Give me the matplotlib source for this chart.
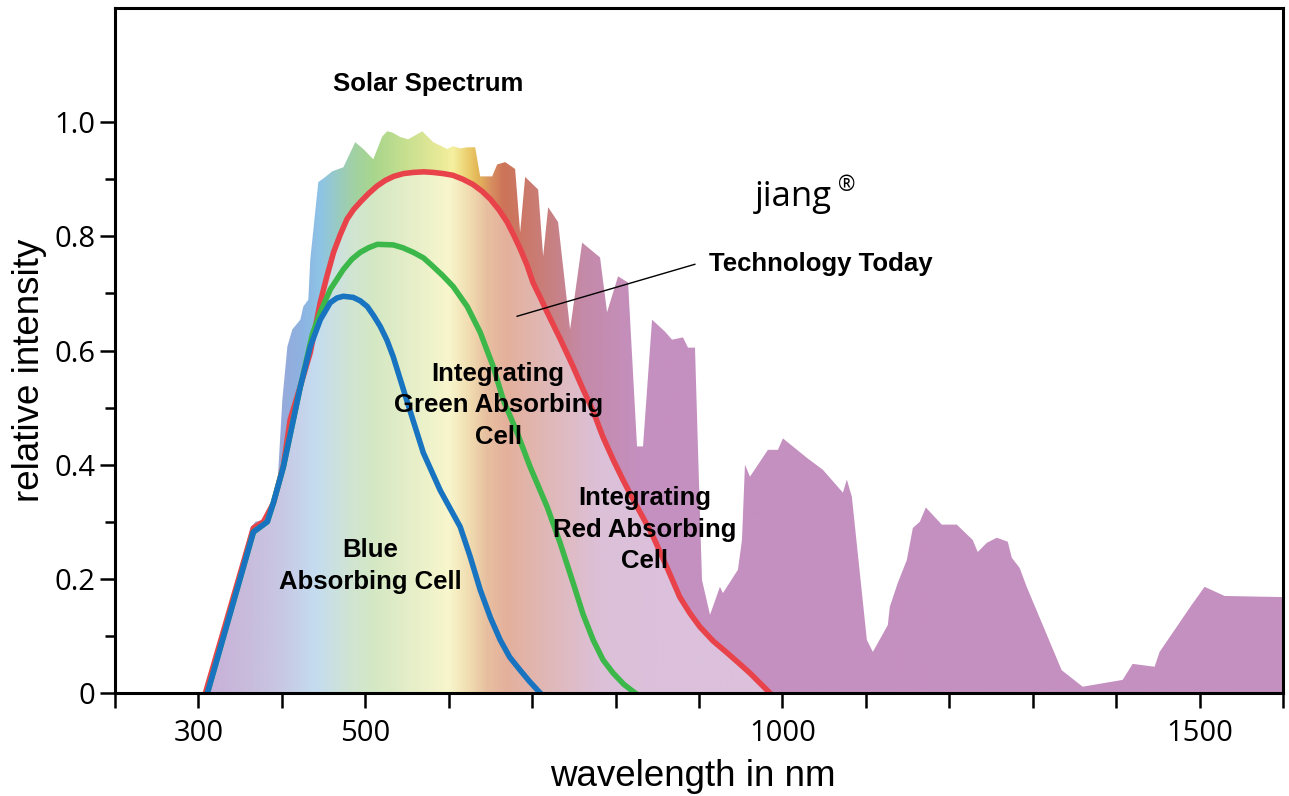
import numpy as np
import matplotlib
matplotlib.use("Agg")
import matplotlib.pyplot as plt
from matplotlib.colors import to_rgb

# ----------------------------------------------------------------------------------------------
# 1. Data (wavelength in nm, relative intensity)
# ----------------------------------------------------------------------------------------------
spectrum_nm = [308.4, 362.3, 368.3, 380.2, 388.6, 394.6, 400.6, 406.6, 412.6, 422.2, 425.7,
               431.7, 434.1, 443.7, 452.1, 460.5, 473.7, 488.0, 497.6, 509.6, 520.4, 526.3,
               532.3, 541.9, 551.5, 568.3, 581.4, 598.2, 605.4, 613.8, 622.2, 631.7, 637.7,
               652.1, 658.1, 667.7, 679.6, 685.6, 691.6, 707.2, 713.2, 719.2, 731.1, 745.5,
               759.9, 781.4, 789.8, 803.0, 815.0, 825.7, 832.9, 843.7, 859.3, 867.7, 880.8,
               886.8, 895.2, 898.8, 903.6, 913.2, 925.1, 928.7, 946.7, 951.5, 955.1, 961.1,
               982.6, 994.6, 1000.6, 1029.3, 1048.5, 1072.5, 1077.2, 1083.2, 1101.2, 1108.4,
               1126.3, 1128.7, 1138.3, 1149.1, 1156.3, 1164.7, 1171.9, 1191.0, 1209.0, 1228.1,
               1234.1, 1244.9, 1256.9, 1270.1, 1274.9, 1284.4, 1292.8, 1334.7, 1359.9, 1407.8,
               1419.8, 1446.1, 1452.1, 1490.4, 1506.0, 1530.0, 1600.0]
spectrum_val = [0.000, 0.289, 0.300, 0.304, 0.325, 0.361, 0.514, 0.607, 0.637, 0.654, 0.677,
                0.689, 0.760, 0.895, 0.904, 0.914, 0.921, 0.965, 0.953, 0.935, 0.975, 0.984,
                0.982, 0.974, 0.970, 0.984, 0.965, 0.953, 0.958, 0.954, 0.956, 0.956, 0.905,
                0.905, 0.926, 0.930, 0.918, 0.807, 0.904, 0.882, 0.765, 0.851, 0.825, 0.637,
                0.789, 0.763, 0.667, 0.730, 0.719, 0.432, 0.432, 0.654, 0.633, 0.619, 0.623,
                0.605, 0.605, 0.426, 0.198, 0.137, 0.186, 0.175, 0.216, 0.268, 0.400, 0.379,
                0.426, 0.426, 0.446, 0.412, 0.391, 0.351, 0.374, 0.344, 0.093, 0.072,
                0.119, 0.151, 0.193, 0.233, 0.289, 0.300, 0.325, 0.295, 0.295, 0.268,
                0.247, 0.263, 0.272, 0.265, 0.237, 0.219, 0.186, 0.040, 0.011, 0.023,
                0.051, 0.046, 0.072, 0.154, 0.186, 0.170, 0.168]

red_nm = [308.4, 365.9, 378.0, 390.0, 402.0, 410.0, 422.0, 434.0, 446.0, 454.0, 462.0, 470.0,
          478.0, 486.0, 494.0, 504.0, 514.0, 524.0, 534.0, 546.0, 558.0, 570.0, 581.0, 593.0,
          605.0, 617.0, 629.0, 640.0, 650.0, 660.0, 670.0, 678.0, 686.0, 694.0, 701.0, 710.0,
          718.0, 734.0, 749.0, 761.0, 773.0, 785.0, 797.0, 809.0, 821.0, 833.0, 845.0, 861.0,
          877.0, 889.0, 901.0, 917.0, 934.0, 948.0, 961.0, 985.0]
red_val = [0.000, 0.289, 0.300, 0.333, 0.400, 0.479, 0.537, 0.596, 0.684, 0.730, 0.772, 0.803,
           0.830, 0.847, 0.860, 0.875, 0.888, 0.898, 0.905, 0.910, 0.912, 0.913, 0.912, 0.910,
           0.907, 0.900, 0.891, 0.879, 0.865, 0.847, 0.825, 0.802, 0.777, 0.749, 0.719, 0.692,
           0.667, 0.619, 0.572, 0.532, 0.494, 0.448, 0.409, 0.373, 0.339, 0.307, 0.274, 0.222,
           0.168, 0.140, 0.116, 0.091, 0.070, 0.052, 0.035, 0.000]

green_nm = [310.8, 365.9, 382.6, 389.8, 401.8, 413.8, 422.2, 436.5, 446.1, 458.1, 473.7, 484.0,
            494.0, 504.0, 514.4, 533.5, 545.0, 557.5, 570.0, 581.4, 593.0, 605.4, 622.2, 637.7,
            653.3, 665.3, 682.0, 697.6, 718.0, 733.5, 749.1, 761.0, 773.1, 785.0, 797.0, 810.0,
            823.4]
green_val = [0.000, 0.282, 0.300, 0.333, 0.396, 0.479, 0.537, 0.628, 0.667, 0.707, 0.742, 0.760,
             0.772, 0.780, 0.786, 0.785, 0.780, 0.772, 0.762, 0.747, 0.731, 0.712, 0.677, 0.632,
             0.572, 0.514, 0.456, 0.396, 0.326, 0.263, 0.193, 0.138, 0.093, 0.058, 0.035, 0.015,
             0.000]

blue_nm = [310.8, 365.9, 382.6, 389.8, 401.8, 413.8, 422.2, 434.1, 446.1, 458.1, 466.0, 473.7,
           485.6, 494.0, 502.4, 510.0, 518.0, 526.0, 533.5, 550.3, 569.5, 589.8, 613.8, 625.7,
           637.7, 650.0, 661.7, 673.0, 685.6, 697.0, 709.6]
blue_val = [0.000, 0.282, 0.300, 0.333, 0.396, 0.479, 0.537, 0.607, 0.654, 0.684, 0.692, 0.695,
            0.693, 0.687, 0.677, 0.661, 0.642, 0.618, 0.589, 0.510, 0.421, 0.355, 0.291, 0.239,
            0.181, 0.132, 0.093, 0.063, 0.040, 0.020, 0.000]

x_ticks = list(range(200, 1601, 100))
x_labelled = [300, 500, 1000, 1500]
y_major = [0.0, 0.2, 0.4, 0.6, 0.8, 1.0]
y_major_labels = ["0", "0.2", "0.4", "0.6", "0.8", "1.0"]
y_minor = [0.1, 0.3, 0.5, 0.7, 0.9]

# colour stops of the rainbow shading (nm, colour)
outer_stops = [(200, "#b4a4d4"), (330, "#b0a4d4"), (390, "#9aa6d8"), (425, "#8cb4e2"),
               (446, "#8ec4e6"), (482, "#a0d0a8"), (510, "#a8d68c"), (550, "#c8e090"),
               (590, "#e8ea98"), (605, "#f5f0a0"), (622, "#ecd070"), (634, "#e4b858"),
               (650, "#d89060"), (665, "#cc7458"), (689, "#cc7868"), (722, "#c88080"),
               (761, "#c48aa8"), (829, "#c490c0"), (1600, "#c490c0")]
inner_stops = [(200, "#c8b0d8"), (310, "#c8b0d8"), (360, "#c8bcdc"), (400, "#c8c8e4"),
               (440, "#c4dcf0"), (480, "#d0e4d4"), (510, "#d4e8c4"), (550, "#e4eec8"),
               (600, "#f8f6cc"), (625, "#f0dcb0"), (645, "#e8c0a0"), (670, "#e4b09c"),
               (720, "#e0b8b8"), (780, "#dcc0d8"), (850, "#dcc0dc"), (1600, "#dcc0dc")]


def gradient_image(stops):
    xs = [s[0] for s in stops]
    cs = np.array([to_rgb(s[1]) for s in stops])
    grid = np.linspace(200, 1600, 1401)
    rgb = np.stack([np.interp(grid, xs, cs[:, k]) for k in range(3)], axis=-1)
    return rgb[np.newaxis, :, :]


# ----------------------------------------------------------------------------------------------
# 2. Figure
# ----------------------------------------------------------------------------------------------
plt.rcParams["font.family"] = ["Open Sans", "DejaVu Sans"]
W, H = 1289, 796
fig = plt.figure(figsize=(W / 100, H / 100), dpi=100)
ax = fig.add_axes([115 / W, 1 - 693 / H, (1283 - 115) / W, (693 - 8) / H])

# spectrum shading, clipped to the spectrum outline
outer = ax.imshow(gradient_image(outer_stops), extent=[200, 1600, 0, 1.2], aspect="auto",
                  origin="lower", interpolation="bilinear", zorder=1)
spec_poly = ax.fill(spectrum_nm + [1600, spectrum_nm[0]], spectrum_val + [0, 0],
                    facecolor="none", edgecolor="none")[0]
outer.set_clip_path(spec_poly)

# lighter shading below the red curve
inner = ax.imshow(gradient_image(inner_stops), extent=[200, 1600, 0, 1.2], aspect="auto",
                  origin="lower", interpolation="bilinear", zorder=2)
red_poly = ax.fill(red_nm, red_val, facecolor="none", edgecolor="none")[0]
inner.set_clip_path(red_poly)

ax.plot(red_nm, red_val, color="#e8424a", lw=4.0, zorder=3, solid_joinstyle="round")
ax.plot(green_nm, green_val, color="#3cb84a", lw=4.0, zorder=4, solid_joinstyle="round")
ax.plot(blue_nm, blue_val, color="#1874c0", lw=4.0, zorder=5, solid_joinstyle="round")

ax.set_xlim(200, 1600)
ax.set_ylim(0, 1.2)

# ----------------------------------------------------------------------------------------------
# 3. Axes, ticks and labels
# ----------------------------------------------------------------------------------------------
for side in ["left", "right", "top", "bottom"]:
    ax.spines[side].set_linewidth(2.2)
    ax.spines[side].set_zorder(6)

ax.set_xticks(x_ticks)
ax.set_xticklabels([str(v) if v in x_labelled else "" for v in x_ticks])
ax.set_yticks(y_major)
ax.set_yticklabels(y_major_labels)
ax.set_yticks(y_minor, minor=True)
ax.tick_params(axis="x", direction="out", length=11, width=1.8, pad=8, labelsize=21)
ax.tick_params(axis="y", which="major", direction="out", length=11, width=1.8, pad=3,
               labelsize=21)
ax.tick_params(axis="y", which="minor", direction="out", length=7, width=1.8)

lab_font = ["Liberation Sans", "DejaVu Sans"]
fig.text(30 / W, 1 - 370 / H, "relative intensity", rotation=90, ha="center", va="center",
         fontsize=26.5, family=lab_font)
fig.text(693 / W, 1 - 776 / H, "wavelength in nm", ha="center", va="center",
         fontsize=26.5, family=lab_font)

# annotations
bold = dict(fontsize=18.5, fontweight="bold", family=lab_font, zorder=7)
ax.text(575.4, 1.066, "Solar Spectrum", ha="center", va="center", **bold)
ax.text(912, 0.751, "Technology Today", ha="left", va="center", **bold)
ax.plot([682, 895], [0.660, 0.751], color="black", lw=1.0, zorder=7)
ax.text(659.3, 0.504, "Integrating\nGreen Absorbing\nCell", ha="center", va="center",
        linespacing=1.4, **bold)
ax.text(835.3, 0.286, "Integrating\nRed Absorbing\nCell", ha="center", va="center",
        linespacing=1.4, **bold)
ax.text(506, 0.223, "Blue\nAbsorbing Cell", ha="center", va="center", linespacing=1.4, **bold)

ax.text(967, 0.853, "jiang", ha="left", va="baseline", fontsize=25, zorder=7)
ax.text(1077, 0.889, "\u00ae", ha="center", va="center", fontsize=15, zorder=7)

fig.savefig("out.png", dpi=100)
